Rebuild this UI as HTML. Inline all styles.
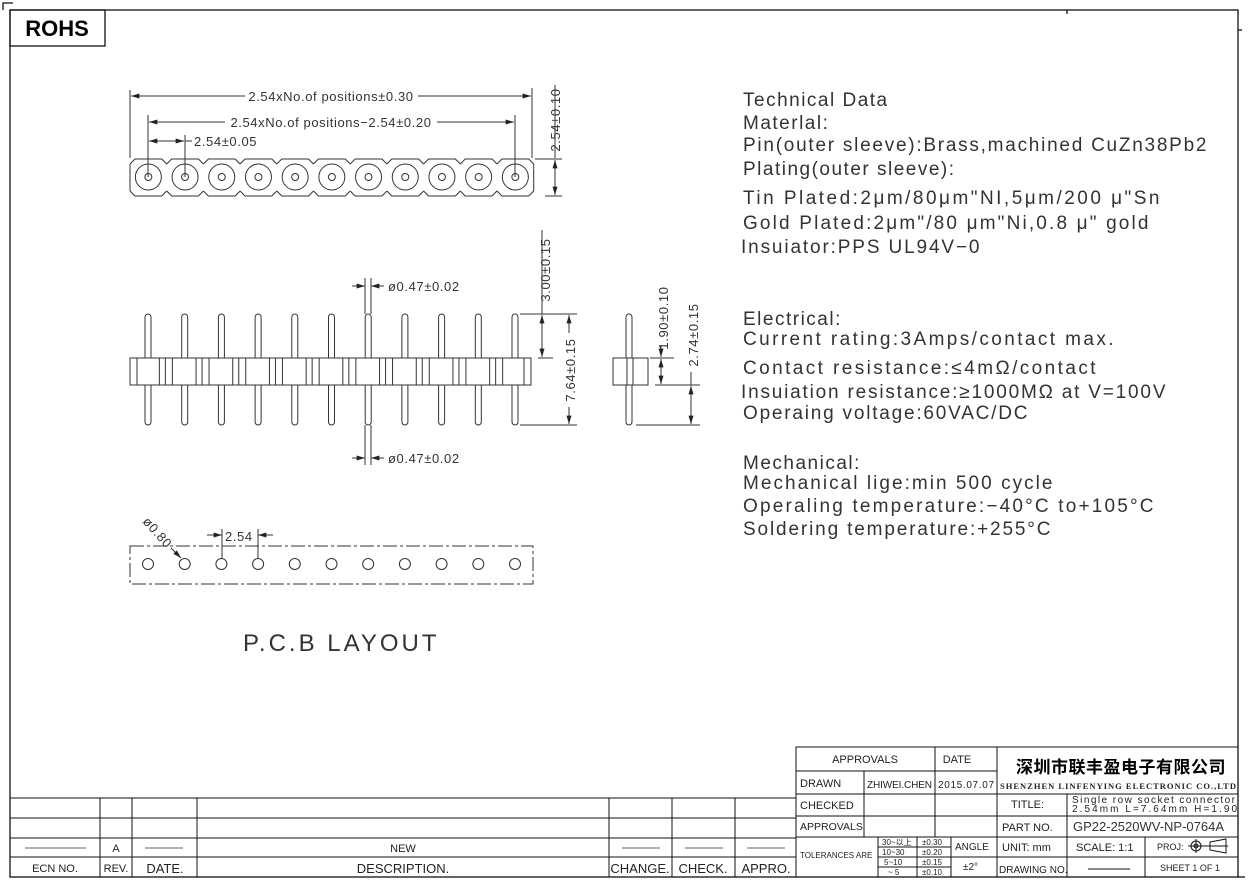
<!DOCTYPE html>
<html><head><meta charset="utf-8"><style>
html,body{margin:0;padding:0;background:#fff;}
svg{display:block;}
text{font-family:"Liberation Sans","Noto Sans CJK SC",sans-serif;fill:#222;}
.t{font-size:19px;letter-spacing:1.5px;fill:#333;}
.s{font-size:11px;}
.d{font-size:13px;fill:#333;letter-spacing:0.6px;}
</style></head><body>
<svg width="1248" height="889" viewBox="0 0 1248 889" xmlns="http://www.w3.org/2000/svg">
<defs>
<marker id="a" viewBox="0 0 10 6" refX="10" refY="3" markerWidth="9" markerHeight="5" orient="auto-start-reverse"><path d="M0,0 L10,3 L0,6z" fill="#222"/></marker>
<g id="cell" fill="none" stroke="#333" stroke-width="1">
<path d="M-18.35,164 L-13.4,159 L13.4,159 L18.35,164 M-18.35,191 L-13.4,196 L13.4,196 L18.35,191"/>
<circle cx="0" cy="177" r="13"/><circle cx="0" cy="177" r="3.5"/>
</g>
<rect id="pin" x="-3" y="314" width="6" height="111" rx="3" fill="#fff" stroke="#333"/>
<g id="gl" stroke="#333"><line x1="-7" y1="358" x2="-7" y2="385"/><line x1="-1" y1="358" x2="-1" y2="385"/><line x1="6" y1="358" x2="6" y2="385"/></g>
<circle id="h" cx="0" cy="564" r="5.5" fill="none" stroke="#333"/>
</defs>
<g stroke="#111" stroke-width="1.3" fill="none">
<rect x="10" y="10" width="1228" height="867"/>
<rect x="10" y="10" width="95" height="36"/>
<path d="M3,10 V3 H13"/>
<line x1="1067" y1="10" x2="1067" y2="14"/>
<line x1="1238" y1="30" x2="1242" y2="30"/>
<line x1="1238" y1="877" x2="1245" y2="877"/>
</g>
<text x="57" y="36" text-anchor="middle" style="font-size:22px;font-weight:bold;fill:#000">ROHS</text>

<g>
<use href="#cell" x="148.35"/><use href="#cell" x="185.05"/><use href="#cell" x="221.75"/><use href="#cell" x="258.45"/><use href="#cell" x="295.15"/><use href="#cell" x="331.85"/><use href="#cell" x="368.55"/><use href="#cell" x="405.25"/><use href="#cell" x="441.95"/><use href="#cell" x="478.65"/><use href="#cell" x="515.35"/>
</g>
<g stroke="#333" fill="none" stroke-width="1">
<line x1="130" y1="164" x2="130" y2="191"/><line x1="533.7" y1="164" x2="533.7" y2="191"/>
<line x1="130" y1="90" x2="130" y2="158"/><line x1="532" y1="88" x2="532" y2="158"/>
<line x1="148" y1="115" x2="148" y2="177"/><line x1="515" y1="115" x2="515" y2="177"/>
<line x1="185" y1="135" x2="185" y2="177"/>
<line x1="131" y1="96" x2="245" y2="96" marker-start="url(#a)"/><line x1="418" y1="96" x2="531" y2="96" marker-end="url(#a)"/>
<line x1="149" y1="122" x2="225" y2="122" marker-start="url(#a)"/><line x1="437" y1="122" x2="514" y2="122" marker-end="url(#a)"/>
<line x1="149" y1="141" x2="184" y2="141" marker-start="url(#a)" marker-end="url(#a)"/><line x1="185" y1="141" x2="192" y2="141"/>
<line x1="535" y1="159" x2="562" y2="159"/><line x1="545" y1="196" x2="562" y2="196"/>
<line x1="555" y1="160" x2="555" y2="195" marker-start="url(#a)" marker-end="url(#a)"/>
<line x1="555" y1="85" x2="555" y2="158"/>
</g>
<text class="d" x="331" y="101" text-anchor="middle">2.54xNo.of  positions±0.30</text>
<text class="d" x="331" y="127" text-anchor="middle">2.54xNo.of  positions−2.54±0.20</text>
<text class="d" x="194" y="146">2.54±0.05</text>
<text class="d" transform="translate(560,120) rotate(-90)" text-anchor="middle">2.54±0.10</text>

<g>
<use href="#pin" x="148"/><use href="#pin" x="184.7"/><use href="#pin" x="221.4"/><use href="#pin" x="258.1"/><use href="#pin" x="294.8"/><use href="#pin" x="331.5"/><use href="#pin" x="368.2"/><use href="#pin" x="404.9"/><use href="#pin" x="441.6"/><use href="#pin" x="478.3"/><use href="#pin" x="515"/>
<rect x="130" y="358" width="401" height="27" fill="#fff" stroke="#333"/>
<line x1="137" y1="358" x2="137" y2="385" stroke="#333"/><line x1="524" y1="358" x2="524" y2="385" stroke="#333"/>
<use href="#gl" x="166.35"/><use href="#gl" x="203.05"/><use href="#gl" x="239.75"/><use href="#gl" x="276.45"/><use href="#gl" x="313.15"/><use href="#gl" x="349.85"/><use href="#gl" x="386.55"/><use href="#gl" x="423.25"/><use href="#gl" x="459.95"/><use href="#gl" x="496.65"/>
</g>
<g stroke="#333" fill="none">
<line x1="365" y1="278" x2="365" y2="314"/><line x1="371" y1="278" x2="371" y2="314"/>
<line x1="352" y1="286" x2="365" y2="286" marker-end="url(#a)"/><line x1="384" y1="286" x2="371" y2="286" marker-end="url(#a)"/>
<line x1="365" y1="425" x2="365" y2="465"/><line x1="371" y1="425" x2="371" y2="465"/>
<line x1="352" y1="458" x2="365" y2="458" marker-end="url(#a)"/><line x1="384" y1="458" x2="371" y2="458" marker-end="url(#a)"/>
<line x1="520" y1="314" x2="577" y2="314"/><line x1="538" y1="358" x2="553" y2="358"/><line x1="520" y1="425" x2="577" y2="425"/>
<line x1="542" y1="315" x2="542" y2="357" marker-start="url(#a)" marker-end="url(#a)"/>
<line x1="569" y1="315" x2="569" y2="333" marker-start="url(#a)"/>
<line x1="569" y1="407" x2="569" y2="424" marker-end="url(#a)"/>
<line x1="542" y1="230" x2="542" y2="314"/>
</g>
<text class="d" x="388" y="291">ø0.47±0.02</text>
<text class="d" x="388" y="463">ø0.47±0.02</text>
<text class="d" transform="translate(550,270) rotate(-90)" text-anchor="middle">3.00±0.15</text>
<text class="d" transform="translate(575,370) rotate(-90)" text-anchor="middle">7.64±0.15</text>

<rect x="626" y="314" width="6" height="111" rx="3" fill="#fff" stroke="#333"/>
<rect x="613" y="358" width="35" height="27" fill="#fff" stroke="#333"/>
<line x1="627" y1="358" x2="627" y2="385" stroke="#333"/><line x1="633" y1="358" x2="633" y2="385" stroke="#333"/>
<g stroke="#333" fill="none">
<line x1="650" y1="358" x2="674" y2="358"/><line x1="655" y1="385" x2="700" y2="385"/><line x1="636" y1="425" x2="700" y2="425"/>
<line x1="661" y1="345" x2="661" y2="357" marker-end="url(#a)"/><line x1="661" y1="359" x2="661" y2="384" marker-start="url(#a)" marker-end="url(#a)"/>
<line x1="691" y1="386" x2="691" y2="424" marker-start="url(#a)" marker-end="url(#a)"/>
<line x1="691" y1="372" x2="691" y2="385"/>
</g>
<text class="d" transform="translate(668,318) rotate(-90)" text-anchor="middle">1.90±0.10</text>
<text class="d" transform="translate(698,335) rotate(-90)" text-anchor="middle">2.74±0.15</text>

<rect x="130" y="546" width="403" height="38" fill="none" stroke="#333" stroke-dasharray="14,3,3,3"/>
<g>
<use href="#h" x="148"/><use href="#h" x="184.7"/><use href="#h" x="221.4"/><use href="#h" x="258.1"/><use href="#h" x="294.8"/><use href="#h" x="331.5"/><use href="#h" x="368.2"/><use href="#h" x="404.9"/><use href="#h" x="441.6"/><use href="#h" x="478.3"/><use href="#h" x="515"/>
</g>
<g stroke="#333" fill="none">
<line x1="222" y1="529" x2="222" y2="558"/><line x1="258" y1="529" x2="258" y2="558"/>
<line x1="207" y1="535" x2="222" y2="535" marker-end="url(#a)"/><line x1="273" y1="535" x2="258" y2="535" marker-end="url(#a)"/>
<line x1="171" y1="548" x2="181" y2="558" marker-end="url(#a)"/>
</g>
<text class="d" x="225" y="541">2.54</text>
<text class="d" transform="translate(142,522) rotate(48)">ø0.80</text>
<text x="243" y="651" style="font-size:24px;letter-spacing:3px;fill:#333">P.C.B LAYOUT</text>

<g>
<text class="t" x="743" y="106">Technical Data</text>
<text class="t" x="743" y="129">Materlal:</text>
<text class="t" x="743" y="151" textLength="465">Pin(outer sleeve):Brass,machined CuZn38Pb2</text>
<text class="t" x="743" y="175">Plating(outer sleeve):</text>
<text class="t" x="743" y="204" textLength="418">Tin Plated:2μm/80μm"NI,5μm/200 μ"Sn</text>
<text class="t" x="743" y="229" textLength="407">Gold Plated:2μm"/80 μm"Ni,0.8 μ" gold</text>
<text class="t" x="741" y="253" textLength="240">Insuiator:PPS UL94V−0</text>
<text class="t" x="743" y="325">Electrical:</text>
<text class="t" x="743" y="345" textLength="372">Current rating:3Amps/contact max.</text>
<text class="t" x="743" y="374" textLength="354">Contact resistance:≤4mΩ/contact</text>
<text class="t" x="741" y="398" textLength="426">Insuiation resistance:≥1000MΩ at V=100V</text>
<text class="t" x="743" y="419" textLength="286">Operaing voltage:60VAC/DC</text>
<text class="t" x="743" y="469">Mechanical:</text>
<text class="t" x="743" y="489" textLength="311">Mechanical lige:min 500 cycle</text>
<text class="t" x="743" y="512" textLength="412">Operaling temperature:−40°C  to+105°C</text>
<text class="t" x="743" y="535" textLength="309">Soldering temperature:+255°C</text>
</g>

<g stroke="#111" stroke-width="1" fill="none">
<line x1="10" y1="798" x2="796" y2="798"/><line x1="10" y1="818" x2="796" y2="818"/><line x1="10" y1="838" x2="796" y2="838"/><line x1="10" y1="857" x2="796" y2="857"/>
<line x1="100" y1="798" x2="100" y2="877"/><line x1="132" y1="798" x2="132" y2="877"/><line x1="197" y1="798" x2="197" y2="877"/><line x1="609" y1="798" x2="609" y2="877"/><line x1="672" y1="798" x2="672" y2="877"/><line x1="735" y1="798" x2="735" y2="877"/>
<line x1="25" y1="848" x2="86" y2="848" stroke="#666"/><line x1="145" y1="848" x2="183" y2="848" stroke="#666"/><line x1="622" y1="848" x2="660" y2="848" stroke="#666"/><line x1="685" y1="848" x2="723" y2="848" stroke="#666"/><line x1="747" y1="848" x2="785" y2="848" stroke="#666"/>
</g>
<g text-anchor="middle">
<text class="s" x="116" y="852">A</text><text class="s" x="403" y="852">NEW</text>
<text class="s" x="55" y="872">ECN NO.</text><text class="s" x="116" y="872">REV.</text><text x="165" y="873" style="font-size:13px">DATE.</text><text x="403" y="873" style="font-size:13px">DESCRIPTION.</text><text x="640" y="873" style="font-size:13px">CHANGE.</text><text x="703" y="873" style="font-size:13px">CHECK.</text><text x="766" y="873" style="font-size:13px">APPRO.</text>
</g>

<g stroke="#111" stroke-width="1" fill="none">
<rect x="796" y="747" width="442" height="130"/>
<line x1="796" y1="771" x2="997" y2="771"/><line x1="796" y1="794" x2="1238" y2="794"/><line x1="796" y1="816" x2="1238" y2="816"/><line x1="796" y1="837" x2="1238" y2="837"/><line x1="997" y1="857" x2="1238" y2="857"/>
<line x1="864" y1="771" x2="864" y2="837"/><line x1="935" y1="747" x2="935" y2="837"/><line x1="997" y1="747" x2="997" y2="877"/><line x1="1067" y1="794" x2="1067" y2="877"/><line x1="1145" y1="837" x2="1145" y2="877"/>
<line x1="878" y1="837" x2="878" y2="877"/><line x1="917" y1="837" x2="917" y2="877"/><line x1="951" y1="837" x2="951" y2="877"/>
<line x1="878" y1="847" x2="951" y2="847"/><line x1="878" y1="857" x2="997" y2="857"/><line x1="878" y1="867" x2="951" y2="867"/>
<line x1="1088" y1="869" x2="1130" y2="869"/>
<circle cx="1196" cy="846" r="5"/><circle cx="1196" cy="846" r="2"/><line x1="1188" y1="846" x2="1228" y2="846"/><line x1="1196" y1="839" x2="1196" y2="853"/><path d="M1210,842 L1226,839 L1226,853 L1210,850z"/>
</g>
<g>
<text class="s" x="865" y="763" text-anchor="middle">APPROVALS</text><text class="s" x="957" y="763" text-anchor="middle">DATE</text>
<text class="s" x="800" y="787">DRAWN</text><text x="867" y="788" style="font-size:10px" textLength="65">ZHIWEI.CHEN</text><text x="938" y="788" style="font-size:10px" textLength="56">2015.07.07</text>
<text class="s" x="800" y="809">CHECKED</text><text x="800" y="830" style="font-size:10.5px">APPROVALS</text>
<text x="800" y="858" style="font-size:8px">TOLERANCES ARE</text>
<text x="882" y="845" style="font-size:8px">30~以上</text><text x="882" y="855" style="font-size:8px">10~30</text><text x="884" y="865" style="font-size:8px">5~10</text><text x="888" y="875" style="font-size:8px">~ 5</text>
<text x="922" y="845" style="font-size:8px">±0.30</text><text x="922" y="855" style="font-size:8px">±0.20</text><text x="922" y="865" style="font-size:8px">±0.15</text><text x="922" y="875" style="font-size:8px">±0.10</text>
<text x="955" y="850" style="font-size:10px">ANGLE</text><text x="963" y="870" style="font-size:10px">±2°</text>
<text x="1016" y="773" style="font-size:17px;font-weight:bold;fill:#000;letter-spacing:0.5px">深圳市联丰盈电子有限公司</text>
<text x="1000" y="789" style="font-size:8.5px;font-family:'Liberation Serif',serif;font-weight:bold" textLength="236">SHENZHEN LINFENYING ELECTRONIC CO.,LTD</text>
<text class="s" x="1011" y="808">TITLE:</text>
<text x="1072" y="803" style="font-size:10px" textLength="163">Single row socket connector</text>
<text x="1072" y="812" style="font-size:10px" textLength="165">2.54mm  L=7.64mm  H=1.90</text>
<text class="s" x="1002" y="831">PART NO.</text>
<text x="1073" y="831" style="font-size:13px;fill:#333">GP22-2520WV-NP-0764A</text>
<text class="s" x="1002" y="851">UNIT: mm</text><text class="s" x="1076" y="851">SCALE:  1:1</text><text x="1157" y="850" style="font-size:9px">PROJ:</text>
<text x="999" y="873" style="font-size:10px">DRAWING NO.</text><text x="1160" y="871" style="font-size:9px">SHEET  1 OF 1</text>
</g>
</svg>
</body></html>
